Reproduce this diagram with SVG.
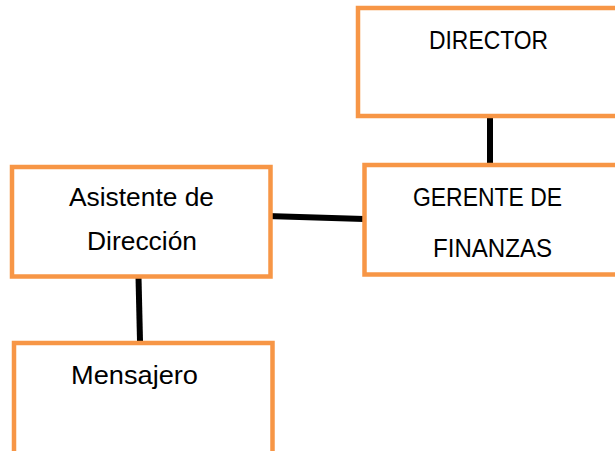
<svg xmlns="http://www.w3.org/2000/svg" width="615" height="451" viewBox="0 0 615 451">
<style>
.box{fill:#ffffff;stroke:#F79646;stroke-width:4.5}
.lbl{font-family:"Liberation Sans",Arial,sans-serif;font-size:25px;fill:#000000}
.conn{stroke:#000000;stroke-width:6;fill:none}
</style>
<rect width="615" height="451" fill="#ffffff"/>
<g id="connectors">
<line class="conn" x1="490" y1="117" x2="490" y2="164"/>
<line class="conn" x1="267" y1="216" x2="364" y2="219"/>
<line class="conn" x1="138.5" y1="277" x2="140" y2="341"/>
</g>
<g id="director">
<rect class="box" x="358" y="8" width="265" height="108"/>
<text class="lbl" x="429" y="49" textLength="119" lengthAdjust="spacingAndGlyphs">DIRECTOR</text>
</g>
<g id="gerente">
<rect class="box" x="364.5" y="165" width="260" height="109.5"/>
<text class="lbl" x="413" y="206" textLength="149" lengthAdjust="spacingAndGlyphs">GERENTE DE</text>
<text class="lbl" x="433" y="257" textLength="119" lengthAdjust="spacingAndGlyphs">FINANZAS</text>
</g>
<g id="asistente">
<rect class="box" x="12" y="167" width="258.5" height="109.5"/>
<text class="lbl" x="69" y="206" textLength="145" lengthAdjust="spacingAndGlyphs">Asistente de</text>
<text class="lbl" x="87" y="249.5" textLength="110" lengthAdjust="spacingAndGlyphs">Dirección</text>
</g>
<g id="mensajero">
<rect class="box" x="14" y="343" width="258.5" height="120"/>
<text class="lbl" x="71" y="384" textLength="127" lengthAdjust="spacingAndGlyphs">Mensajero</text>
</g>
</svg>
